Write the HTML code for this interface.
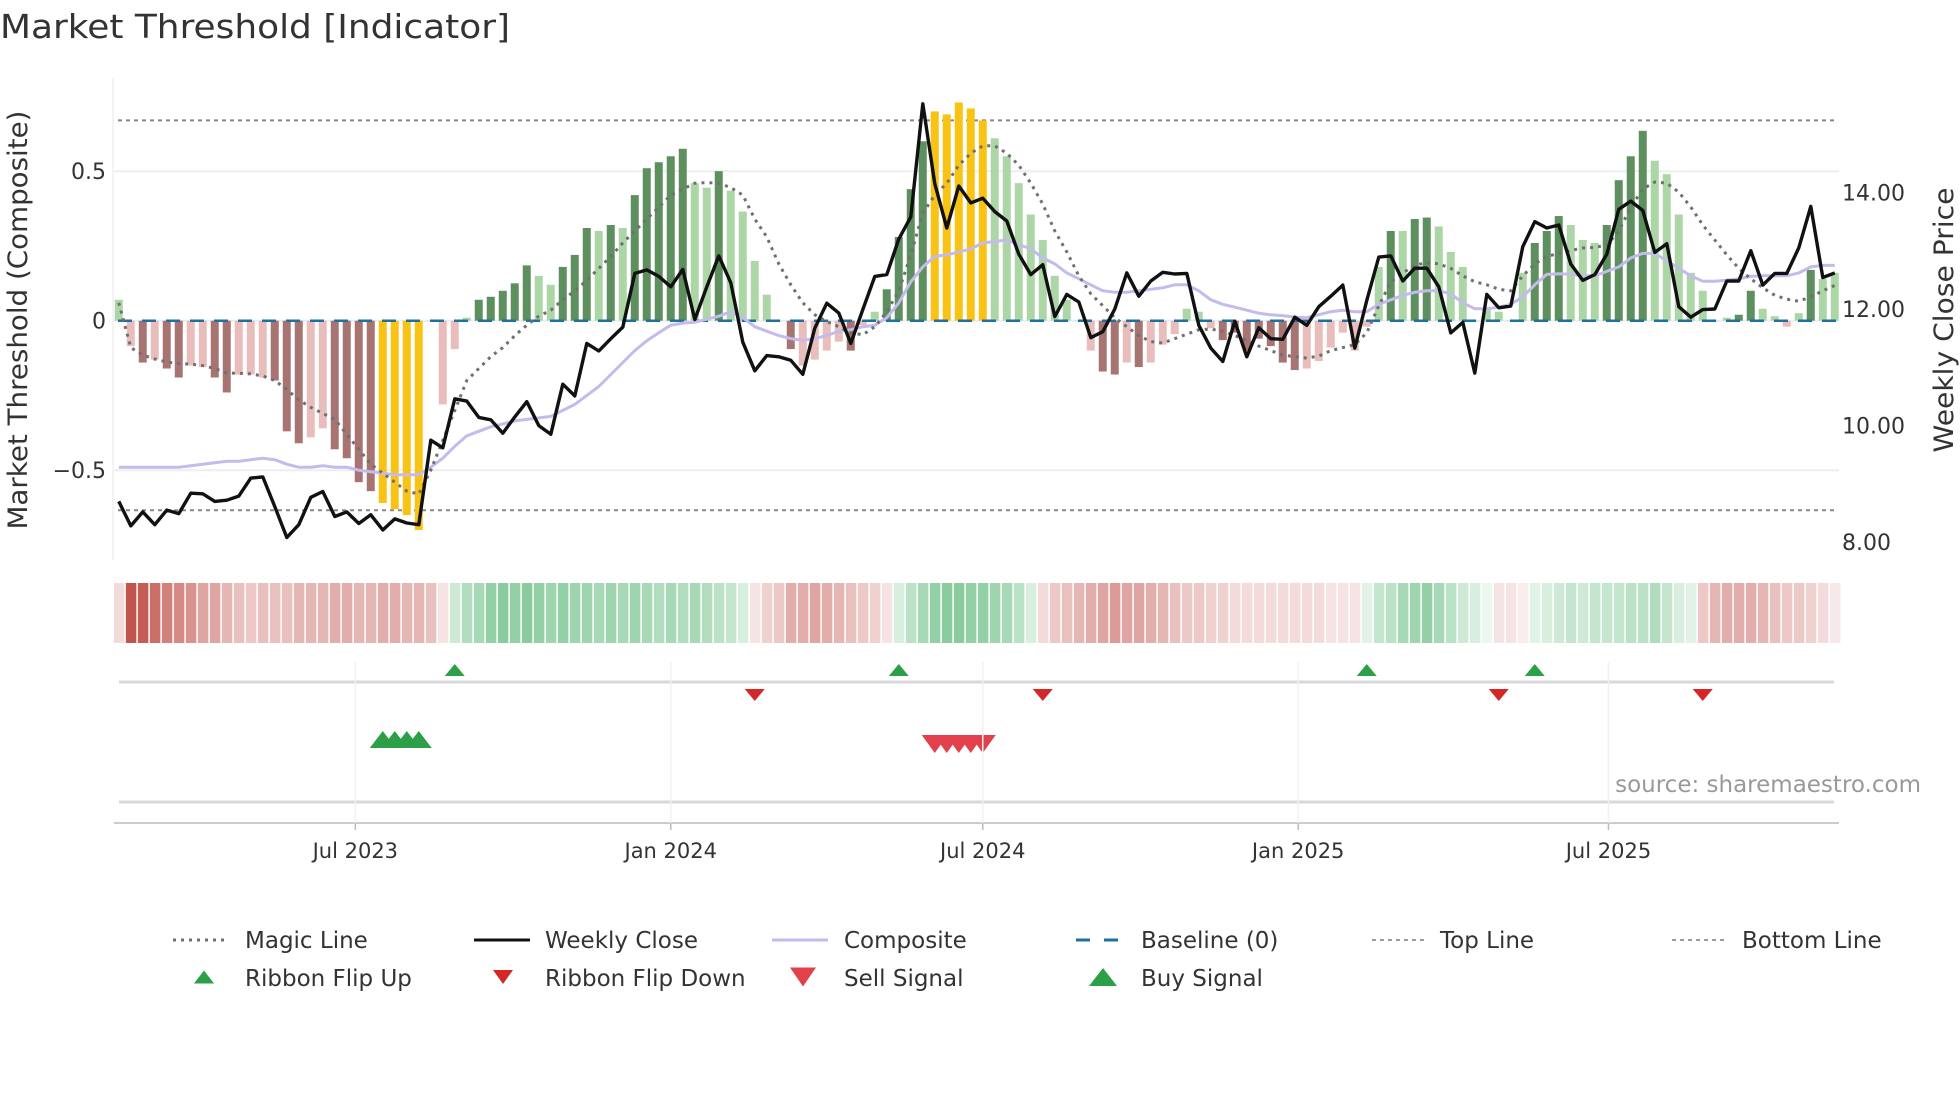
<!DOCTYPE html>
<html><head><meta charset="utf-8">
<style>
html,body{margin:0;padding:0;background:#fff;}
svg{display:block;font-family:"DejaVu Sans","Liberation Sans",sans-serif;}
</style></head>
<body>
<svg id="chart" width="1960" height="1102" viewBox="0 0 1960 1102" xmlns="http://www.w3.org/2000/svg">
<text x="0" y="38" font-size="33" fill="#333" textLength="510" lengthAdjust="spacingAndGlyphs">Market Threshold [Indicator]</text>
<g id="grid"></g>
<g id="bars"></g>
<g id="lines"></g>
<g id="ribbon"></g>
<g id="signals"></g>
<g id="axes"></g>
<text transform="translate(27,320) rotate(-90)" text-anchor="middle" font-size="27" fill="#333" textLength="419" lengthAdjust="spacingAndGlyphs">Market Threshold (Composite)</text>
<text transform="translate(1953,320) rotate(-90)" text-anchor="middle" font-size="27" fill="#333" textLength="265" lengthAdjust="spacingAndGlyphs">Weekly Close Price</text>
<text x="1921" y="792" text-anchor="end" font-size="23" fill="#999">source: sharemaestro.com</text>
<g id="legend"></g>
</svg>
<script>
const barVals=[0.07,-0.085,-0.14,-0.13,-0.16,-0.19,-0.15,-0.155,-0.19,-0.24,-0.18,-0.18,-0.19,-0.2,-0.37,-0.41,-0.39,-0.36,-0.43,-0.46,-0.54,-0.57,-0.61,-0.63,-0.65,-0.70,0,-0.28,-0.095,
0.01,0.07,0.08,0.1,0.125,0.185,0.15,0.12,0.18,0.22,0.31,0.30,0.32,0.31,0.42,0.51,0.53,0.55,0.575,0.46,0.445,0.50,0.435,0.365,0.2,0.087,
0,-0.095,-0.15,-0.13,-0.1,-0.07,-0.1,-0.015,0.03,0.105,0.28,0.44,0.6,0.70,0.69,0.73,0.71,
0.67,0.61,0.55,0.46,0.355,0.27,0.15,0.07,0,-0.1,-0.17,-0.18,-0.14,-0.155,-0.14,-0.08,-0.045,0.04,0.03,-0.025,-0.065,-0.04,-0.1,-0.06,-0.085,-0.14,-0.165,-0.16,-0.135,-0.09,-0.04,-0.1,-0.02,0.18,0.30,0.30,0.34,0.345,0.315,0.23,0.18,0,0.04,0.03,0,0.16,0.26,0.30,0.35,0.32,0.27,0.26,0.32,0.47,0.55,0.635,0.535,0.49,0.355,0.16,0.10,0,0.01,0.02,0.10,0.04,0.015,-0.02,0.025,0.17,0.14,0.16];
const barCats=["lg","lr","dr","lr","dr","dr","lr","lr","dr","dr","lr","lr","lr","dr","dr","dr","lr","lr","dr","dr","dr","dr","y","y","y","y","lr","lr","lr",
"lg","dg","dg","dg","dg","dg","lg","lg","dg","dg","dg","lg","dg","lg","dg","dg","dg","dg","dg","lg","lg","dg","lg","lg","lg","lg",
"lr","dr","lr","lr","lr","lr","dr","lr","lg","dg","dg","dg","dg","y","y","y","y",
"y","lg","lg","lg","lg","lg","lg","lg","lg","lr","dr","dr","lr","dr","lr","lr","lr","lg","lg","lr","dr","dr","dr","dr","dr","dr","dr","lr","lr","lr","lr","lr","lr","lg","dg","lg","dg","dg","lg","lg","lg","lg","lg","lg","lg","lg","dg","dg","dg","lg","lg","lg","dg","dg","dg","dg","lg","lg","lg","lg","lg","lg","lg","dg","dg","lg","lg","lr","lg","dg","lg","lg"];
const closeVals=[8.70,8.28,8.52,8.30,8.55,8.49,8.84,8.83,8.70,8.72,8.79,9.10,9.12,8.61,8.08,8.30,8.77,8.87,8.44,8.52,8.32,8.47,8.21,8.40,8.33,8.30,9.75,9.62,10.46,10.42,10.14,10.10,9.87,10.15,10.41,10.0,9.85,10.71,10.51,11.41,11.28,11.49,11.69,12.61,12.67,12.56,12.38,12.68,11.82,12.38,12.91,12.45,11.43,10.94,11.20,11.18,11.12,10.88,11.67,12.10,11.93,11.41,11.99,12.56,12.59,13.20,13.58,15.52,14.15,13.39,14.11,13.82,
13.90,13.67,13.51,12.94,12.59,12.76,11.87,12.25,12.12,11.51,11.61,12.0,12.62,12.22,12.48,12.63,12.60,12.61,11.72,11.33,11.10,11.79,11.18,11.68,11.49,11.48,11.86,11.72,12.04,12.22,12.41,11.33,12.15,12.89,12.91,12.48,12.70,12.70,12.38,11.59,11.77,10.90,12.25,12.02,12.05,13.07,13.50,13.39,13.44,12.77,12.49,12.59,12.94,13.71,13.85,13.69,12.97,13.12,12.04,11.86,11.99,12.0,12.48,12.48,13.0,12.41,12.61,12.61,13.05,13.76,12.54,12.62];
const compositeVals=[-0.49,-0.49,-0.49,-0.49,-0.49,-0.49,-0.485,-0.48,-0.475,-0.47,-0.47,-0.465,-0.46,-0.465,-0.48,-0.49,-0.49,-0.485,-0.49,-0.49,-0.5,-0.505,-0.51,-0.515,-0.515,-0.515,-0.49,-0.46,-0.42,-0.385,-0.37,-0.355,-0.345,-0.335,-0.33,-0.325,-0.32,-0.3,-0.28,-0.25,-0.22,-0.18,-0.14,-0.1,-0.067,-0.04,-0.015,-0.008,-0.005,0.005,0.015,0.03,0.01,-0.02,-0.035,-0.05,-0.06,-0.066,-0.06,-0.05,-0.035,-0.03,-0.02,-0.015,0.01,0.06,0.13,0.18,0.215,0.22,0.23,0.24,
0.26,0.265,0.27,0.255,0.24,0.21,0.19,0.16,0.14,0.12,0.1,0.095,0.095,0.1,0.105,0.11,0.12,0.12,0.1,0.07,0.055,0.045,0.035,0.025,0.02,0.017,0.012,0.01,0.02,0.03,0.035,0.03,0.03,0.055,0.07,0.085,0.095,0.1,0.1,0.09,0.06,0.04,0.04,0.045,0.055,0.08,0.12,0.155,0.157,0.155,0.15,0.15,0.165,0.18,0.21,0.225,0.225,0.2,0.175,0.15,0.132,0.132,0.135,0.14,0.148,0.15,0.15,0.15,0.16,0.18,0.185,0.185];
const magicVals=[0.06,-0.09,-0.115,-0.128,-0.138,-0.143,-0.145,-0.15,-0.16,-0.175,-0.176,-0.178,-0.185,-0.2,-0.23,-0.265,-0.29,-0.31,-0.33,-0.38,-0.43,-0.48,-0.51,-0.54,-0.57,-0.58,-0.5,-0.4,-0.3,-0.2,-0.16,-0.12,-0.09,-0.05,-0.015,0.015,0.035,0.07,0.1,0.135,0.175,0.215,0.26,0.30,0.34,0.38,0.42,0.44,0.46,0.462,0.46,0.445,0.42,0.34,0.28,0.19,0.12,0.06,0.02,-0.003,-0.02,-0.04,-0.047,-0.02,0.03,0.1,0.22,0.36,0.42,0.46,0.52,0.56,
0.585,0.585,0.56,0.52,0.46,0.39,0.3,0.23,0.15,0.09,0.05,0.01,-0.02,-0.05,-0.07,-0.075,-0.06,-0.045,-0.03,-0.028,-0.035,-0.05,-0.065,-0.085,-0.1,-0.115,-0.12,-0.125,-0.118,-0.1,-0.09,-0.08,-0.04,0.05,0.13,0.16,0.185,0.195,0.19,0.175,0.15,0.13,0.12,0.105,0.1,0.15,0.19,0.215,0.225,0.235,0.243,0.245,0.253,0.3,0.38,0.44,0.464,0.46,0.43,0.38,0.32,0.27,0.22,0.175,0.14,0.11,0.085,0.072,0.065,0.08,0.1,0.118];
const ribbonVals=[-0.2,-0.95,-0.9,-0.8,-0.7,-0.65,-0.6,-0.5,-0.5,-0.4,-0.35,-0.3,-0.35,-0.35,-0.35,-0.4,-0.4,-0.4,-0.45,-0.45,-0.4,-0.4,-0.45,-0.45,-0.4,-0.4,-0.35,-0.15,
0.25,0.4,0.45,0.55,0.6,0.55,0.6,0.55,0.5,0.55,0.5,0.5,0.45,0.5,0.45,0.5,0.45,0.4,0.45,0.4,0.45,0.4,0.35,0.3,0.2,
-0.15,-0.25,-0.3,-0.45,-0.45,-0.5,-0.45,-0.4,-0.35,-0.3,-0.25,-0.15,
0.2,0.35,0.45,0.55,0.6,0.6,0.55,0.55,0.5,0.45,0.35,0.2,
-0.2,-0.3,-0.35,-0.4,-0.45,-0.5,-0.55,-0.5,-0.5,-0.45,-0.4,-0.35,-0.3,-0.3,-0.25,-0.25,-0.2,-0.2,-0.2,-0.2,-0.2,-0.2,-0.2,-0.2,-0.15,-0.15,-0.15,
0.15,0.3,0.35,0.45,0.5,0.55,0.45,0.35,0.25,0.2,0.1,
-0.15,-0.15,-0.1,
0.15,0.2,0.25,0.3,0.25,0.3,0.3,0.3,0.35,0.35,0.4,0.3,0.2,0.15,
-0.3,-0.4,-0.45,-0.45,-0.45,-0.4,-0.35,-0.3,-0.3,-0.25,-0.2,-0.12];
const flipUpIdx=[28,65,104,118];
const flipDownIdx=[53,77,115,132];
const buyIdx=[22,23,24,25];
const sellIdx=[68,69,70,71,72];
const leftTicks=[0.5,0,-0.5];
const leftTickLabels=["0.5","0","\u22120.5"];
const rightTicks=[14,12,10,8];
const rightTickLabels=["14.00","12.00","10.00","8.00"];
const dateTicks=["2023-07-01","2024-01-01","2024-07-01","2025-01-01","2025-07-01"];
const dateTickLabels=["Jul 2023","Jan 2024","Jul 2024","Jan 2025","Jul 2025"];
const topLineVal=0.67, bottomLineVal=-0.634;

const NS="http://www.w3.org/2000/svg";
const startDate=new Date("2023-02-13T00:00:00Z");
const X0=118.75, STEP=12;
function xIdx(i){return X0+i*STEP;}
function xDate(s){const d=(new Date(s+"T00:00:00Z")-startDate)/86400000;return X0+d/7*STEP;}
function yL(v){return 320.7-v*299;}
function yR(p){return 309-(p-12)*58.3;}
function mk(tag,attrs,parent){const e=document.createElementNS(NS,tag);for(const k in attrs)e.setAttribute(k,attrs[k]);parent.appendChild(e);return e;}
const G=id=>document.getElementById(id);
const PX0=114, PX1=1839;

const grid=G("grid");
leftTicks.forEach((t,k)=>{
  const l=mk("line",{x1:PX0,x2:PX1,y1:yL(t),y2:yL(t),stroke:"#eceef0","stroke-width":2},grid);
  
  
});
const spine=mk("line",{x1:113,x2:113,y1:78,y2:560,stroke:"#f0f0f0","stroke-width":1.5},grid);


const topL=mk("line",{x1:118,x2:1836,y1:yL(topLineVal),y2:yL(topLineVal),stroke:"#888","stroke-width":2,"stroke-dasharray":"4 4"},grid);


const botL=mk("line",{x1:118,x2:1836,y1:yL(bottomLineVal),y2:yL(bottomLineVal),stroke:"#888","stroke-width":2,"stroke-dasharray":"4 4"},grid);



const colors={dg:"#5e8f5e",lg:"#acd6a6",dr:"#a87472",lr:"#e9bdbb",y:"#f8c314"};
const bars=G("bars");
barVals.forEach((v,i)=>{
  const y0=yL(0),y1=yL(v);
  const r=mk("rect",{x:xIdx(i)-4,y:Math.min(y0,y1),width:8,height:Math.max(0.5,Math.abs(y1-y0)),fill:colors[barCats[i]]},bars);
  
  
});
const base=mk("line",{x1:118,x2:1836,y1:yL(0),y2:yL(0),stroke:"#1f6f9f","stroke-width":2.5,"stroke-dasharray":"14 10"},bars);



const lines=G("lines");
function path(vals,fy){return vals.map((v,i)=>(i?"L":"M")+xIdx(i).toFixed(1)+","+fy(v).toFixed(1)).join("");}
const compL=mk("path",{d:path(compositeVals,yL),fill:"none",stroke:"#c4bbec","stroke-width":3,"stroke-linejoin":"round"},lines);


const magL=mk("path",{d:path(magicVals,yL),fill:"none",stroke:"#707070","stroke-width":3,"stroke-dasharray":"3 5"},lines);


const closeL=mk("path",{d:path(closeVals,yR),fill:"none",stroke:"#111","stroke-width":3.4,"stroke-linejoin":"round"},lines);



const ribbon=G("ribbon");
function mix(base,s){return "rgb("+base.map(c=>Math.round(255-(255-c)*s)).join(",")+")";}
ribbonVals.forEach((v,i)=>{
  const s=Math.min(1,Math.abs(v));
  const c=v<0?mix([190,75,68],s):mix([60,170,92],s);
  const r=mk("rect",{x:xIdx(i)-4.9,y:583,width:10.5,height:60,fill:c},ribbon);
  
  
});

const axes=G("axes");
leftTicks.forEach((t,k)=>{
  const tx=mk("text",{x:106,y:yL(t)+8,"text-anchor":"end","font-size":22,fill:"#333"},axes);
  tx.textContent=leftTickLabels[k];
  
  
});
rightTicks.forEach((t,k)=>{
  const tx=mk("text",{x:1842,y:yR(t)+8,"font-size":22,fill:"#333"},axes);
  tx.textContent=rightTickLabels[k];
  
  
});
[682,802].forEach((y,k)=>{
  const l=mk("line",{x1:119,x2:1834,y1:y,y2:y,stroke:"#d8d8d8","stroke-width":3},axes);
  
  
});
const xAxis=mk("line",{x1:114,x2:1839,y1:823,y2:823,stroke:"#ccc","stroke-width":2},axes);


dateTicks.forEach((d,k)=>{
  const x=xDate(d);
  const gl=mk("line",{x1:x,x2:x,y1:662,y2:823,stroke:"#f0f2f4","stroke-width":1.5},axes);
  
  
  const tk=mk("line",{x1:x,x2:x,y1:823,y2:830,stroke:"#bbb","stroke-width":1.5},axes);
  
  
  const tx=mk("text",{x:x,y:858,"text-anchor":"middle","font-size":21,fill:"#333"},axes);
  tx.textContent=dateTickLabels[k];
  
  
});

const sig=G("signals");
function tri(x,yTop,w,h,up,fill){
  const p=up?[[x,yTop],[x-w/2,yTop+h],[x+w/2,yTop+h]]:[[x-w/2,yTop],[x+w/2,yTop],[x,yTop+h]];
  return mk("polygon",{points:p.map(q=>q.join(",")).join(" "),fill:fill},sig);
}
flipUpIdx.forEach(i=>{const t=tri(xIdx(i),664,20,12,true,"#2ca048");
  
  });
flipDownIdx.forEach(i=>{const t=tri(xIdx(i),689,20,12,false,"#d62728");
  
  });
buyIdx.forEach(i=>{const t=tri(xIdx(i),731,26,17,true,"#2ca048");
  
  });
sellIdx.forEach(i=>{const t=tri(xIdx(i),735,26,18,false,"#e2404a");
  
  });

const lg=G("legend");
const legendRow1=[["Magic Line",173,245,"magic"],["Weekly Close",474,545,"close"],["Composite",772,844,"comp"],["Baseline (0)",1073,1141,"base"],["Top Line",1372,1440,"dot"],["Bottom Line",1672,1742,"dot"]];
legendRow1.forEach(e=>{
  const y=940;
  let attrs={x1:e[1],x2:e[1]+56,y1:y,y2:y,"stroke-width":3};
  if(e[3]=="magic"){attrs.stroke="#707070";attrs["stroke-dasharray"]="3 5";}
  if(e[3]=="close"){attrs.stroke="#111";}
  if(e[3]=="comp"){attrs.stroke="#c4bbec";}
  if(e[3]=="base"){attrs.stroke="#1f6f9f";attrs["stroke-dasharray"]="14 14";attrs.x1=e[1]+3;}
  if(e[3]=="dot"){attrs.stroke="#999";attrs["stroke-width"]=2;attrs["stroke-dasharray"]="4 4";}
  const l=mk("line",attrs,lg);
  
  
  const t=mk("text",{x:e[2],y:y+8,"font-size":23,fill:"#333"},lg);
  t.textContent=e[0];
  
  
});
const legendRow2=[["Ribbon Flip Up",204,245,true,"#2ca048",20,13],["Ribbon Flip Down",503,545,false,"#d62728",20,14],["Sell Signal",803,844,false,"#e2404a",26,19],["Buy Signal",1103,1141,true,"#2ca048",28,18]];
legendRow2.forEach(e=>{
  const y=978;
  const m=tri(e[1],y-e[6]/2-1,e[5],e[6],e[3],e[4]);
  lg.appendChild(m);
  
  
  const t=mk("text",{x:e[2],y:y+8,"font-size":23,fill:"#333"},lg);
  t.textContent=e[0];
  
  
});
</script>
</body></html>
